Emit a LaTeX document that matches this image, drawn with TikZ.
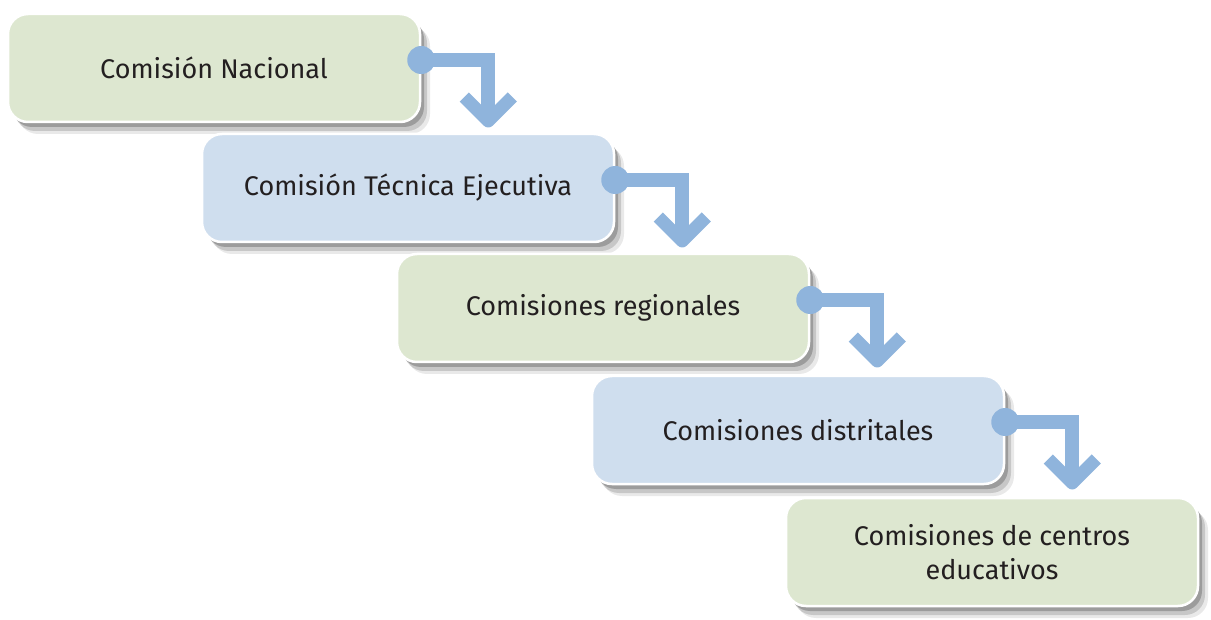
\documentclass[tikz,border=0pt]{standalone}
\usepackage{fontspec}
\setmainfont{Fira Sans}
\usetikzlibrary{shadows}
\definecolor{boxgreen}{HTML}{DDE7D0}
\definecolor{boxblue}{HTML}{CFDEEE}
\definecolor{arrowblue}{HTML}{8FB4DC}
\definecolor{textdark}{HTML}{231F20}
\begin{document}
\begin{tikzpicture}[x=1pt,y=-1pt]
        \tikzstyle{level}=[rectangle,rounded corners=20pt,draw=white,line width=2.5pt,minimum width=412pt,minimum height=108pt,align=center,text=textdark,font=\fontsize{27}{34}\selectfont,
          drop shadow={shadow xshift=10pt,shadow yshift=-12pt,fill=black!70,opacity=0.12},
          drop shadow={shadow xshift=7pt,shadow yshift=-9pt,fill=black!70,opacity=0.22},
          drop shadow={shadow xshift=4pt,shadow yshift=-5pt,fill=black!70,opacity=0.35}]
        \tikzstyle{link}=[draw=arrowblue,line width=14pt]
        \tikzstyle{head}=[draw=arrowblue,line width=13pt,line join=round]
        \tikzstyle{dot}=[circle,fill=arrowblue,minimum size=28pt,inner sep=0pt]
        \useasboundingbox (0,0) rectangle (1211,620);
       \begin{scope}
         \node [level,fill=boxgreen] (n1) at (214,68) {Comisión Nacional};
         \node [level,fill=boxblue] (n2) at (408,188) {Comisión Técnica Ejecutiva};
         \node [level,fill=boxgreen] (n3) at (603,308) {Comisiones regionales};
         \node [level,fill=boxblue] (n4) at (798,430) {Comisiones distritales};
         \node [level,fill=boxgreen] (n5) at (992,552) {Comisiones de centros\\educativos};
         % connectors
         \node [dot] (p1) at ([yshift=8pt]n1.east) {};
         \node [dot] (p2) at ([yshift=8pt]n2.east) {};
         \node [dot] (p3) at ([yshift=8pt]n3.east) {};
         \node [dot] (p4) at ([yshift=8pt]n4.east) {};
         \coordinate (k1) at ([xshift=67pt]p1.center);
         \coordinate (k2) at ([xshift=67pt]p2.center);
         \coordinate (k3) at ([xshift=67pt]p3.center);
         \coordinate (k4) at ([xshift=67pt]p4.center);
         \path[link] (p1.center) -- (k1) -- ([yshift=-52pt]k1);
         \path[link] (p2.center) -- (k2) -- ([yshift=-52pt]k2);
         \path[link] (p3.center) -- (k3) -- ([yshift=-52pt]k3);
         \path[link] (p4.center) -- (k4) -- ([yshift=-52pt]k4);
         \path[head] ([xshift=-24pt,yshift=-37pt]k1) -- ([yshift=-61pt]k1) -- ([xshift=24pt,yshift=-37pt]k1);
         \path[head] ([xshift=-24pt,yshift=-37pt]k2) -- ([yshift=-61pt]k2) -- ([xshift=24pt,yshift=-37pt]k2);
         \path[head] ([xshift=-24pt,yshift=-37pt]k3) -- ([yshift=-61pt]k3) -- ([xshift=24pt,yshift=-37pt]k3);
         \path[head] ([xshift=-24pt,yshift=-37pt]k4) -- ([yshift=-61pt]k4) -- ([xshift=24pt,yshift=-37pt]k4);
        \end{scope}
      \end{tikzpicture}
\end{document}
